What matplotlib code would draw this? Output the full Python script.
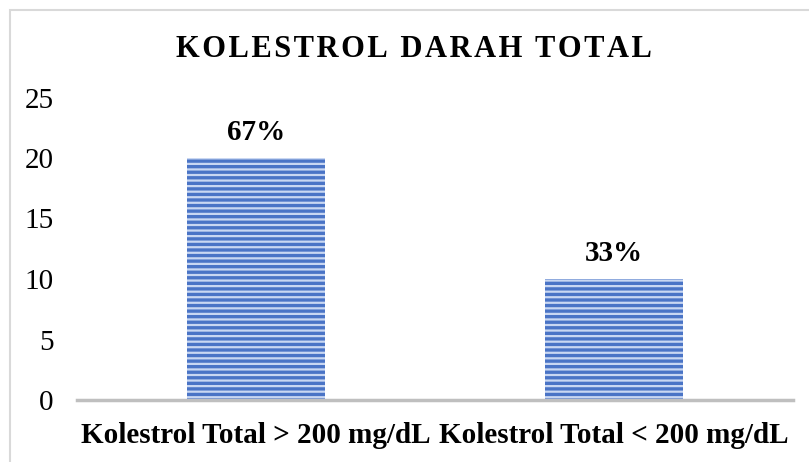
import matplotlib.pyplot as plt
from matplotlib.patches import Rectangle

# data
categories = ['Kolestrol Total > 200 mg/dL', 'Kolestrol Total < 200 mg/dL']
values = [20, 10]
yticks = [0, 5, 10, 15, 20, 25]
title = 'KOLESTROL DARAH TOTAL'

plt.rcParams['font.family'] = ['Liberation Serif', 'DejaVu Serif']
plt.rcParams['hatch.color'] = '#c9d7f2'
plt.rcParams['hatch.linewidth'] = 1.6

W, H = 809, 462
fig = plt.figure(figsize=(W / 100, H / 100), dpi=100)

# chart frame (light grey border, cut off at right/bottom)
fig.patches.append(Rectangle((10 / W, -0.1), 1.2, (H - 10) / H + 0.1,
                             transform=fig.transFigure, fill=False,
                             edgecolor='#d9d9d9', linewidth=1.5))

ax = fig.add_axes([77 / W, 1 - 400 / H, (793 - 77) / W, (400 - 97.5) / H])

x = list(range(len(categories)))
bars = ax.bar(x, values, width=0.383, color='#4a74c6', hatch='---',
              edgecolor='#c9d7f2', linewidth=0)

total = sum(values)
for b, v in zip(bars, values):
    ax.annotate(f'{round(v / total * 100)}%', (b.get_x() + b.get_width() / 2, v),
                xytext=(0, 13), textcoords='offset points', ha='center',
                va='baseline', fontsize=21, fontweight='bold')

ax.set_xlim(-0.5, 1.5)
ax.set_ylim(0, 25)
ax.set_yticks(yticks)
ax.set_xticks(x)
ax.set_xticklabels(categories, fontsize=21, fontweight='bold')
ax.tick_params(axis='y', length=0, pad=17, labelsize=21)
ax.tick_params(axis='x', length=0, pad=16)
for s in ['top', 'right', 'left']:
    ax.spines[s].set_visible(False)
ax.spines['bottom'].set_color('#bfbfbf')
ax.spines['bottom'].set_linewidth(2.5)

# letter-spaced title
fig.text(414 / W, 1 - 57 / H, '\u200a'.join(title), ha='center', va='baseline',
         fontsize=22, fontweight='bold')

fig.savefig('out.png', dpi=100)
